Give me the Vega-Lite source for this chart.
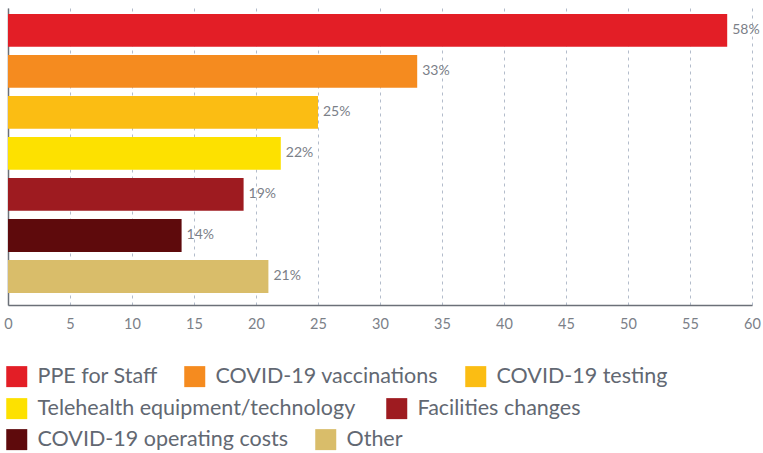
{
  "$schema": "https://vega.github.io/schema/vega-lite/v6.json",
  "width": 744,
  "height": 297,
  "padding": {"left": 8, "top": 8, "right": 11, "bottom": 148},
  "autosize": {"type": "none"},
  "background": "white",
  "data": {"values": [
    {"category": "PPE for Staff", "value": 58},
    {"category": "COVID-19 vaccinations", "value": 33},
    {"category": "COVID-19 testing", "value": 25},
    {"category": "Telehealth equipment/technology", "value": 22},
    {"category": "Facilities changes", "value": 19},
    {"category": "COVID-19 operating costs", "value": 14},
    {"category": "Other", "value": 21}
  ]},
  "encoding": {
    "y": {"field": "category", "type": "nominal",
      "scale": {"domain": ["PPE for Staff", "COVID-19 vaccinations", "COVID-19 testing", "Telehealth equipment/technology", "Facilities changes", "COVID-19 operating costs", "Other"], "paddingInner": 0.2, "paddingOuter": 0.22, "align": 0.33},
      "axis": {"title": null, "labels": false, "ticks": false, "domain": true, "domainColor": "#6b7078", "domainWidth": 1.5, "grid": false}},
    "x": {"field": "value", "type": "quantitative",
      "scale": {"domain": [0, 60], "nice": false},
      "axis": {"title": null, "values": [0,5,10,15,20,25,30,35,40,45,50,55,60], "grid": true, "gridDash": [3,4], "gridColor": "#b3bccb", "ticks": false, "domainColor": "#6b7078", "domainWidth": 1.5, "labelColor": "#7b8088", "labelFont": "Lato", "labelFontSize": 14.5, "labelPadding": 12, "labelFlush": false}}
  },
  "layer": [
    {
      "transform": [{"filter": {"field": "category", "oneOf": ["PPE for Staff", "COVID-19 vaccinations", "COVID-19 testing"]}}],
      "mark": {"type": "bar"},
      "encoding": {"color": {"field": "category", "type": "nominal",
        "scale": {"domain": ["PPE for Staff", "COVID-19 vaccinations", "COVID-19 testing"], "range": ["#e31e26", "#f58b1f", "#fbbd13"]},
        "legend": {"legendX": -2, "legendY": 357.5}}}
    },
    {
      "transform": [{"filter": {"field": "category", "oneOf": ["Telehealth equipment/technology", "Facilities changes"]}}],
      "mark": {"type": "bar"},
      "encoding": {"color": {"field": "category", "type": "nominal",
        "scale": {"domain": ["Telehealth equipment/technology", "Facilities changes"], "range": ["#fde100", "#9e1b20"]},
        "legend": {"legendX": -2, "legendY": 389.5, "columnPadding": 30}}}
    },
    {
      "transform": [{"filter": {"field": "category", "oneOf": ["COVID-19 operating costs", "Other"]}}],
      "mark": {"type": "bar"},
      "encoding": {"color": {"field": "category", "type": "nominal",
        "scale": {"domain": ["COVID-19 operating costs", "Other"], "range": ["#5e0a0c", "#d9bd6a"]},
        "legend": {"legendX": -2, "legendY": 420.5}}}
    },
    {
      "transform": [{"calculate": "datum.value + '%'", "as": "label"}],
      "mark": {"type": "text", "align": "left", "baseline": "middle", "dx": 5, "font": "Lato", "fontSize": 14, "color": "#7b8088"},
      "encoding": {"text": {"field": "label", "type": "nominal"}}
    }
  ],
  "resolve": {"scale": {"color": "independent"}, "legend": {"color": "independent"}},
  "config": {
    "view": {"stroke": null},
    "legend": {"orient": "none", "direction": "horizontal", "title": null, "symbolType": "square", "symbolSize": 441, "symbolStrokeWidth": 0, "symbolOpacity": 1, "labelFont": "Lato", "labelFontSize": 21.5, "labelColor": "#626872", "labelOffset": 10, "columnPadding": 26, "labelLimit": 600, "padding": 0, "symbolOffset": 0}
  }
}
